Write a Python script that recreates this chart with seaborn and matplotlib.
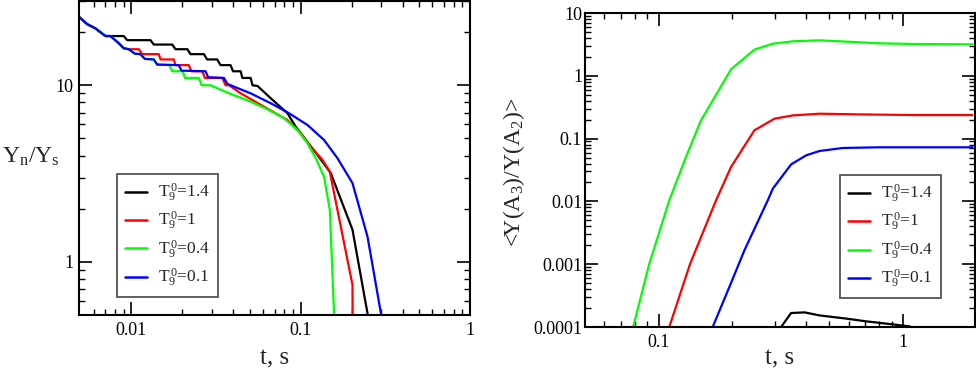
import numpy as np
import pandas as pd
import matplotlib
matplotlib.use("Agg")
import matplotlib.pyplot as plt
import seaborn as sns
from matplotlib.ticker import NullFormatter

# ---------------- data: left panel  (t [s], Yn/Ys) ----------------
labels = [r"$\mathrm{T}_9^{\,0}$=1.4", r"$\mathrm{T}_9^{\,0}$=1",
          r"$\mathrm{T}_9^{\,0}$=0.4", r"$\mathrm{T}_9^{\,0}$=0.1"]
colors = ["#000000", "#ff0000", "#00ff00", "#0000ff"]

t_L14 = [0.0049, 0.00547, 0.00612, 0.00702, 0.0090, 0.00943, 0.01296, 0.01355, 0.01742,
         0.0182, 0.0214, 0.02234, 0.0268, 0.0280, 0.0321, 0.0336, 0.0385, 0.0398, 0.0442,
         0.0452, 0.0506, 0.0519, 0.0556, 0.0665, 0.0834, 0.0934, 0.1071, 0.1256, 0.1505,
         0.2022, 0.2585]
y_L14 = [24.4, 22.2, 21.0, 19.0, 19.0, 18.0, 18.0, 17.0, 17.0,
         16.0, 16.0, 15.0, 15.0, 14.0, 14.0, 13.0, 13.0, 12.0, 12.0,
         11.0, 11.0, 10.0, 9.9, 8.44, 6.95, 5.83, 4.90, 4.03, 3.18,
         1.52, 0.41]

t_L10 = [0.0049, 0.00547, 0.00612, 0.00702, 0.00751, 0.00841, 0.0090, 0.00964, 0.01105,
         0.01157, 0.01451, 0.01485, 0.0178, 0.0182, 0.0218, 0.0226, 0.0262, 0.0272, 0.0344,
         0.0360, 0.0377, 0.0442, 0.0607, 0.0834, 0.1, 0.1146, 0.1344, 0.1485, 0.2022, 0.2028]
y_L10 = [24.4, 22.2, 21.0, 19.0, 19.0, 17.3, 16.2, 16.0, 16.0,
         15.0, 15.0, 14.0, 14.0, 13.0, 13.0, 12.0, 12.0, 11.0, 11.0,
         10.0, 10.0, 9.0, 7.56, 6.36, 5.35, 4.49, 3.78, 3.24, 0.74, 0.3]

t_L04 = [0.0049, 0.00547, 0.00612, 0.00702, 0.00751, 0.00841, 0.0090, 0.00964, 0.01046,
         0.0113, 0.0120, 0.01355, 0.01419, 0.0168, 0.01742, 0.0201, 0.0207, 0.0250, 0.0260,
         0.0293, 0.0385, 0.0506, 0.0635, 0.0796, 0.0956, 0.1095, 0.1227, 0.1373, 0.1485,
         0.1574, 0.158]
y_L04 = [24.4, 22.2, 21.0, 19.0, 19.0, 17.3, 16.2, 16.0, 15.1,
         15.0, 14.1, 14.0, 13.1, 13.0, 12.0, 12.0, 11.0, 11.0, 10.0,
         10.0, 8.93, 8.08, 7.31, 6.51, 5.58, 4.70, 3.86, 3.04, 1.97,
         0.51, 0.43]

t_L01 = [0.0049, 0.00547, 0.00612, 0.00702, 0.00751, 0.00841, 0.0090, 0.00964, 0.01046,
         0.0113, 0.0120, 0.01355, 0.01419, 0.01905, 0.01976, 0.0274, 0.0284, 0.0352, 0.0368,
         0.0385, 0.0506, 0.0665, 0.0853, 0.1095, 0.1373, 0.1649, 0.2022, 0.248, 0.2974, 0.3055]
y_L01 = [24.4, 22.2, 21.0, 19.0, 19.0, 17.3, 16.2, 16.0, 15.1,
         15.0, 14.1, 14.0, 13.1, 13.0, 12.1, 12.0, 11.1, 11.0, 10.2,
         10.0, 9.0, 7.91, 6.94, 5.96, 4.90, 3.86, 2.79, 1.39, 0.514, 0.44]

# ---------------- data: right panel  (t [s], <Y(A3)/Y(A2)>) ----------------
t_R14 = [0.31, 0.3171, 0.3486, 0.3955, 0.4555, 0.586, 0.7077, 0.910, 1.065, 1.129]
y_R14 = [8.85e-5, 1.0e-4, 1.67e-4, 1.71e-4, 1.53e-4, 1.36e-4, 1.23e-4, 1.10e-4, 1.02e-4, 0.94e-4]

t_R10 = [0.1072, 0.1106, 0.1344, 0.1718, 0.1979, 0.2466, 0.2979, 0.354, 0.4555, 0.6644, 1.099, 1.923]
y_R10 = [6.6e-5, 1.0e-4, 1.0e-3, 0.0104, 0.0353, 0.1356, 0.2075, 0.234, 0.249, 0.243, 0.237, 0.237]

t_R04 = [0.077, 0.0787, 0.0915, 0.1106, 0.1294, 0.1491, 0.1979, 0.2466, 0.2933, 0.354,
         0.4555, 0.586, 0.802, 1.099, 1.923]
y_R04 = [6.9e-5, 1.0e-4, 1.0e-3, 0.0104, 0.0509, 0.195, 1.27, 2.61, 3.25, 3.54,
         3.67, 3.50, 3.29, 3.21, 3.17]

t_R01 = [0.1613, 0.1665, 0.1948, 0.2244, 0.2797, 0.2933, 0.3486, 0.4017, 0.4555, 0.5676, 0.802, 1.923]
y_R01 = [7.2e-5, 1.0e-4, 4.34e-4, 1.66e-3, 0.0104, 0.01596, 0.0389, 0.0542, 0.0635, 0.0709, 0.0727, 0.0727]


def long_df(ts, ys):
    frames = []
    for lab, t, y in zip(labels, ts, ys):
        frames.append(pd.DataFrame({"t": t, "v": y, "series": lab}))
    return pd.concat(frames, ignore_index=True)


df_left = long_df([t_L14, t_L10, t_L04, t_L01], [y_L14, y_L10, y_L04, y_L01])
df_right = long_df([t_R14, t_R10, t_R04, t_R01], [y_R14, y_R10, y_R04, y_R01])

# ---------------- style ----------------
sns.set_theme(style="ticks")
plt.rcParams.update({
    "font.family": ["Liberation Serif", "DejaVu Serif"],
    "mathtext.fontset": "custom",
    "mathtext.rm": "Liberation Serif",
    "mathtext.it": "Liberation Serif:italic",
    "mathtext.default": "regular",
    "axes.edgecolor": "black",
    "xtick.color": "black",
    "ytick.color": "black",
})

fig = plt.figure(figsize=(9.76, 3.69), dpi=100)
W, H = 976, 369
axL = fig.add_axes([79 / W, 54 / H, 391 / W, 314 / H])
axR = fig.add_axes([585 / W, 42 / H, 390 / W, 314 / H])

palette = dict(zip(labels, colors))
for ax, df in ((axL, df_left), (axR, df_right)):
    sns.lineplot(data=df, x="t", y="v", hue="series", hue_order=labels, palette=palette,
                 estimator=None, sort=False, linewidth=1.6, ax=ax)
    ax.set_xscale("log")
    ax.set_yscale("log")


def style(ax, xmaj, xlab, xmin, ymaj, ylab, ymin, ypad):
    ax.set_xticks(xmaj, xlab)
    ax.set_xticks(xmin, minor=True)
    ax.set_yticks(ymaj, ylab)
    ax.set_yticks(ymin, minor=True)
    ax.xaxis.set_minor_formatter(NullFormatter())
    ax.yaxis.set_minor_formatter(NullFormatter())
    ax.tick_params(which="both", direction="in", top=True, right=True, colors="black")
    ax.tick_params(which="major", length=9.5, width=1.2, labelsize=13)
    ax.tick_params(axis="x", which="major", pad=5)
    ax.tick_params(axis="y", which="major", pad=ypad)
    ax.tick_params(which="minor", length=4.5, width=1.0)
    for s in ax.spines.values():
        s.set_linewidth(1.5)
        s.set_color("black")
    ax.grid(False)


dec = [2, 3, 4, 5, 6, 7, 8, 9]
style(axL, [0.01, 0.1, 1], ["0.01", "0.1", "1"],
      [0.006, 0.007, 0.008, 0.009] + [d * 0.01 for d in dec] + [d * 0.1 for d in dec],
      [1, 10], ["1", "10"],
      [0.6, 0.7, 0.8, 0.9] + dec + [20, 30], 4)
axL.set_xlim(0.0049, 1.0)
axL.set_ylim(0.5, 30)

style(axR, [0.1, 1], ["0.1", "1"],
      [0.06, 0.07, 0.08, 0.09] + [d * 0.1 for d in dec] + [2],
      [1e-4, 1e-3, 1e-2, 1e-1, 1, 10], ["0.0001", "0.001", "0.01", "0.1", "1", "10"],
      [d * 10.0 ** e for e in range(-4, 1) for d in dec], 2)
axR.set_xlim(0.05, 1.97)
axR.set_ylim(1e-4, 10)

axL.set_xlabel("t, s", fontsize=18)
axL.xaxis.set_label_coords(0.5, -0.102)
axR.set_xlabel("t, s", fontsize=18)
axR.xaxis.set_label_coords(0.5, -0.064)
for ax in (axL, axR):
    ax.set_ylabel("")

fig.text(2 / W, 1 - 157 / H, r"$\mathrm{Y_n/Y_s}$", fontsize=17, ha="left", va="center")
fig.text(514 / W, 1 - 172 / H, r"<Y(A$_3$)/Y(A$_2$)>", fontsize=17, rotation=90,
         ha="center", va="center")

for ax, anchor in ((axL, (0.097, 0.057)), (axR, (0.654, 0.092))):
    h, l = ax.get_legend_handles_labels()
    leg = ax.legend(h, l, loc="lower left", bbox_to_anchor=anchor, fontsize=12.5,
                    frameon=True, fancybox=False, framealpha=1, edgecolor="#555555",
                    handlelength=1.3, handletextpad=0.6, borderpad=0.45,
                    labelspacing=0.36, borderaxespad=0)
    leg.get_frame().set_linewidth(1.3)
    for ln in leg.get_lines():
        ln.set_linewidth(1.8)

fig.savefig("out.png", dpi=100)
